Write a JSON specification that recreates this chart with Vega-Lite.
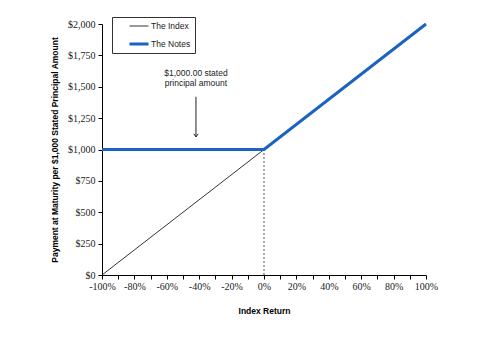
{
  "$schema": "https://vega.github.io/schema/vega-lite/v6.json",
  "width": 324,
  "height": 251,
  "autosize": {"type": "none"},
  "padding": {"left": 102, "top": 24, "right": 69, "bottom": 64},
  "background": "white",
  "config": {
    "view": {"stroke": null},
    "axis": {"grid": false, "labelOverlap": false, "labelFlush": false, "domainColor": "black", "tickColor": "black", "labelColor": "#222", "titleColor": "black", "labelFont": "Liberation Serif", "labelFontSize": 10, "titleFont": "Liberation Sans", "titleFontSize": 8.5, "titleFontWeight": "bold", "tickSize": 4, "domainWidth": 1, "tickWidth": 1},
    "legend": {
      "orient": "none",
      "legendX": 10,
      "legendY": -7,
      "strokeColor": "#333",
      "fillColor": "white",
      "padding": 4,
      "rowPadding": 8,
      "clipHeight": 10,
      "symbolType": "stroke",
      "symbolSize": 361,
      "symbolOffset": 12,
      "labelFont": "Liberation Sans",
      "labelFontSize": 8.5,
      "labelColor": "#222",
      "labelOffset": 1
    }
  },
  "datasets": {
    "lines": [
      {"ret": -1, "pay": 0, "series": "The Index"},
      {"ret": 0, "pay": 1000, "series": "The Index"},
      {"ret": 1, "pay": 2000, "series": "The Index"},
      {"ret": -1, "pay": 1000, "series": "The Notes"},
      {"ret": 0, "pay": 1000, "series": "The Notes"},
      {"ret": 1, "pay": 2000, "series": "The Notes"}
    ],
    "notes": [
      {"ret": -0.42, "pay": 1610, "line": "$1,000.00 stated"},
      {"ret": -0.42, "pay": 1530, "line": "principal amount"}
    ]
  },
  "encoding": {
    "x": {
      "field": "ret", "type": "quantitative",
      "scale": {"domain": [-1, 1], "nice": false},
      "axis": {
        "title": "Index Return",
        "titlePadding": 15,
        "labelOverlap": false,
        "labelFlush": false,
        "tickCount": 25,
        "values": [-1, -0.9, -0.8, -0.7, -0.6, -0.5, -0.4, -0.3, -0.2, -0.1, 0, 0.1, 0.2, 0.3, 0.4, 0.5, 0.6, 0.7, 0.8, 0.9, 1],
        "format": ".0%",
        "labelExpr": "abs(round(datum.value * 100)) % 20 == 0 ? replace(datum.label, '\u2212', '-') : ''",
        "labelPadding": 2
      }
    },
    "y": {
      "field": "pay", "type": "quantitative",
      "scale": {"domain": [0, 2000], "nice": false},
      "axis": {
        "title": "Payment at Maturity per $1,000 Stated Principal Amount",
        "labelOverlap": false,
        "labelFlush": false,
        "tickCount": 12,
        "values": [0, 250, 500, 750, 1000, 1250, 1500, 1750, 2000],
        "format": "$,.0f",
        "titlePadding": 8,
        "labelPadding": 3
      }
    }
  },
  "layer": [
    {
      "data": {"values": [{"ret": 0, "pay": 0, "pay2": 1000}]},
      "mark": {"type": "rule", "stroke": "#555", "strokeDash": [2, 2], "strokeWidth": 1},
      "encoding": {"y2": {"field": "pay2"}}
    },
    {
      "data": {"name": "lines"},
      "mark": {"type": "line", "clip": false},
      "encoding": {
        "color": {
          "field": "series", "type": "nominal",
          "scale": {"domain": ["The Index", "The Notes"], "range": ["black", "#1a63c0"]},
          "legend": {"title": null, "labelExpr": "datum.label + '\u00a0\u00a0\u00a0\u00a0\u00a0\u00a0'"}
        },
        "strokeWidth": {
          "field": "series", "type": "nominal",
          "scale": {"domain": ["The Index", "The Notes"], "range": [0.8, 3]},
          "legend": {"title": null, "labelExpr": "datum.label + '\u00a0\u00a0\u00a0\u00a0\u00a0\u00a0'"}
        }
      }
    },
    {
      "data": {"values": [{"ret": -0.42, "pay": 1420, "pay2": 1100}]},
      "mark": {"type": "rule", "stroke": "#222", "strokeWidth": 1},
      "encoding": {"y2": {"field": "pay2"}}
    },
    {
      "data": {"values": [{"ret": -0.42, "pay": 1100}]},
      "mark": {"type": "point", "shape": "M-1,-1.4L0,0L1,-1.4", "size": 20, "filled": false, "stroke": "#222", "strokeWidth": 1, "opacity": 1}
    },
    {
      "data": {"name": "notes"},
      "mark": {"type": "text", "font": "Liberation Sans", "fontSize": 8.5, "color": "#222", "align": "center", "baseline": "middle"},
      "encoding": {"text": {"field": "line"}}
    }
  ]
}
